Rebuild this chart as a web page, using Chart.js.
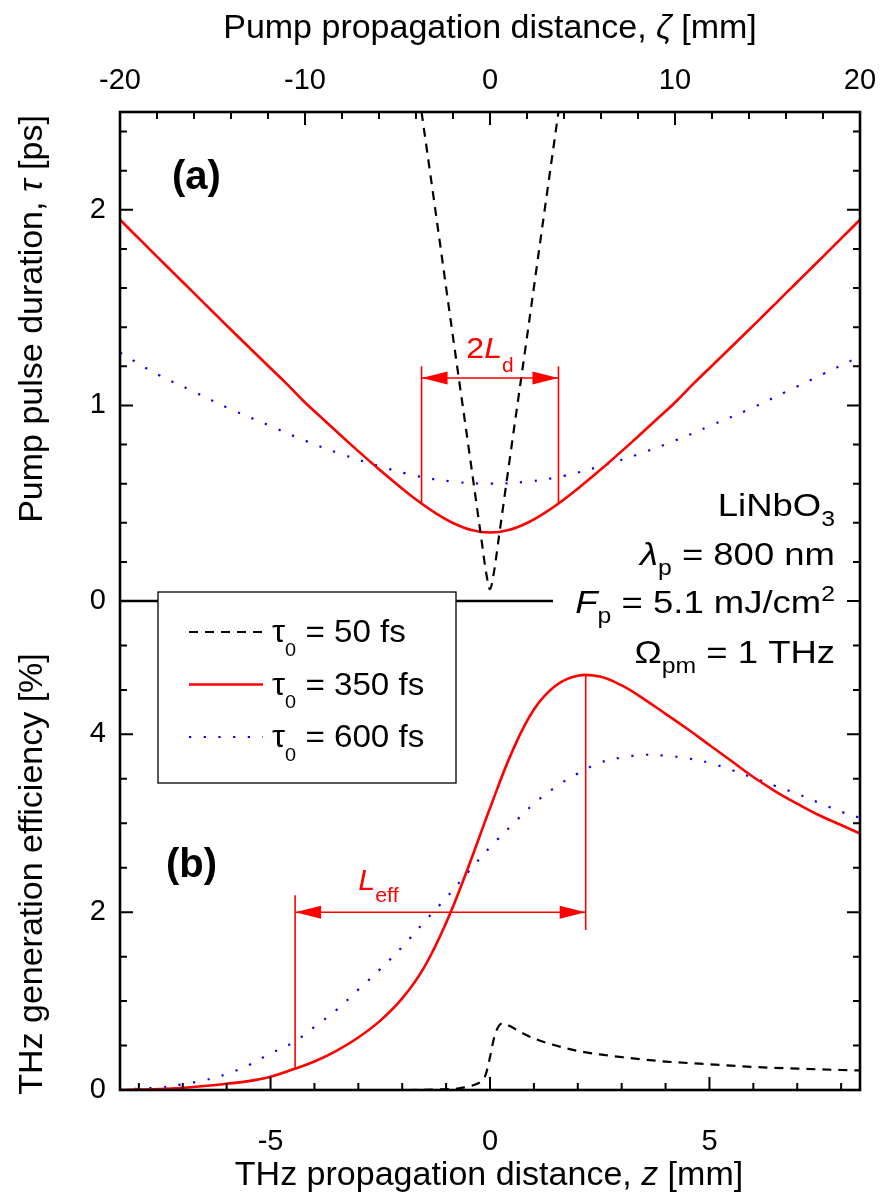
<!DOCTYPE html>
<html>
<head>
<meta charset="utf-8">
<title>Pump pulse duration and THz generation efficiency</title>
<script src="https://cdn.jsdelivr.net/npm/chart.js@4.4.1/dist/chart.umd.min.js"></script>
<style>
  html, body { margin: 0; padding: 0; background: #fff; }
  canvas { display: block; }
</style>
</head>
<body>
<canvas id="myChart" width="884" height="1192"></canvas>
<script>
const FONT = '"Liberation Sans", Arial, Helvetica, sans-serif';

// (a) pump pulse duration tau [ps] vs pump propagation distance zeta [mm]
const zeta50 = [-3.7, -3, -2, -1, -0.5, -0.2, 0, 0.2, 0.5, 1, 2, 3, 3.7];
const tau50 = [2.50, 2.03, 1.35, 0.68, 0.34, 0.14, 0.06, 0.14, 0.34, 0.68, 1.35, 2.03, 2.50];

const zeta350 = [-20, -19, -18, -17, -16, -15, -14, -13, -12, -11, -10, -9, -8, -7, -6, -5, -4, -3, -2, -1, 0,
  1, 2, 3, 4, 5, 6, 7, 8, 9, 10, 11, 12, 13, 14, 15, 16, 17, 18, 19, 20];
const tau350 = [1.949, 1.855, 1.761, 1.667, 1.574, 1.480, 1.387, 1.295, 1.203, 1.111, 1.015, 0.928, 0.841, 0.756, 0.673, 0.594, 0.519, 0.453, 0.399, 0.363, 0.350,
  0.363, 0.399, 0.453, 0.519, 0.594, 0.673, 0.756, 0.841, 0.928, 1.015, 1.111, 1.203, 1.295, 1.387, 1.480, 1.574, 1.667, 1.761, 1.855, 1.949];

const zeta600 = [-20, -18, -16, -14, -12, -10, -8, -6, -4, -2, 0, 2, 4, 6, 8, 10, 12, 14, 16, 18, 20];
const tau600 = [1.27, 1.16, 1.07, 0.98, 0.90, 0.82, 0.75, 0.69, 0.64, 0.61, 0.60, 0.61, 0.64, 0.69, 0.75, 0.82, 0.90, 0.98, 1.07, 1.16, 1.25];

// (b) THz generation efficiency [%] vs THz propagation distance z [mm]
const z50 = [-8.43, -6, -4, -2, -1.2, -0.7, -0.4, -0.2, -0.1, 0, 0.1, 0.2, 0.3, 0.45, 0.7, 1, 1.5, 2, 2.5, 3, 4, 5, 6, 7, 8, 8.43];
const eff50 = [0, 0, 0, 0, 0.005, 0.02, 0.05, 0.10, 0.17, 0.37, 0.60, 0.72, 0.75, 0.72, 0.65, 0.58, 0.50, 0.44, 0.40, 0.37, 0.32, 0.29, 0.26, 0.24, 0.225, 0.22];

const z350 = [-8.5, -8, -7.5, -7, -6.5, -6, -5.5, -5, -4.5, -4, -3.5, -3, -2.5, -2, -1.5, -1, -0.5, 0, 0.5, 1, 1.5, 2, 2.5, 3, 3.5, 4, 4.5, 5, 5.5, 6, 6.5, 7, 7.5, 8, 8.5];
const eff350 = [0, 0.005, 0.012, 0.025, 0.045, 0.07, 0.10, 0.15, 0.23, 0.32, 0.44, 0.59, 0.78, 1.03, 1.38, 1.88, 2.50, 3.17, 3.80, 4.28, 4.55, 4.66, 4.65, 4.55, 4.40, 4.23, 4.06, 3.88, 3.70, 3.52, 3.36, 3.22, 3.09, 2.98, 2.87];

const z600 = [-8.43, -8, -7.5, -7, -6.5, -6, -5.5, -5, -4.5, -4, -3.5, -3, -2.5, -2, -1.5, -1, -0.5, 0, 0.5, 1, 1.5, 2, 2.5, 3, 3.5, 4, 4.5, 5, 5.5, 6, 6.5, 7, 7.5, 8, 8.43];
const eff600 = [0, 0.015, 0.03, 0.065, 0.11, 0.18, 0.28, 0.41, 0.53, 0.71, 0.90, 1.13, 1.36, 1.61, 1.89, 2.16, 2.45, 2.73, 2.98, 3.22, 3.41, 3.56, 3.68, 3.74, 3.77, 3.76, 3.73, 3.68, 3.60, 3.51, 3.42, 3.33, 3.23, 3.13, 3.06];

const legendLabels = ['50 fs', '350 fs', '600 fs'];

// 2L_d markers (panel a) and L_eff markers (panel b)
const ldZeta = [-3.7, 3.7];
const ldSpan = [0.50, 1.20];
const ldArrowAt = 1.14;
const leffZ = [-4.44, 2.18];
const leffFrom = [0.24, 4.67];
const leffTo = [2.19, 1.80];
const leffArrowAt = 2.0;

// axis limits
const zetaRange = [-20, 20];
const zRange = [-8.43, 8.43];
const tauRange = [0, 2.5];
const effRange = [0, 5.5];

const pts = (xs, ys) => xs.map((x, i) => ({x: x, y: ys[i]}));

const dashStyle = {borderColor: '#000', borderWidth: 2.2, borderDash: [9, 7], cubicInterpolationMode: 'monotone'};
const redStyle = {borderColor: '#ff0000', borderWidth: 2.6, borderDash: [], tension: 0.4};
const blueStyle = {borderColor: '#0000ff', borderWidth: 2.2, borderDash: [2.2, 12.5], tension: 0.4};

function line(data, style, xAxis, yAxis) {
  return Object.assign({
    data: data,
    xAxisID: xAxis,
    yAxisID: yAxis,
    showLine: true,
    pointRadius: 0,
    fill: false,
    borderCapStyle: 'butt'
  }, style);
}

// draw a sequence of text runs (italic / subscript / superscript)
function drawRuns(ctx, runs, x, y, o) {
  const size = o.size;
  const sx = o.sx || 1;
  const subScale = o.subScale || 0.68;
  const subOff = (o.subOff || 0.3) * size;
  const fontFor = r => {
    const s = (r.sub || r.sup) ? size * subScale : size;
    return (o.bold ? 'bold ' : '') + (r.it ? 'italic ' : '') + s + 'px ' + FONT;
  };
  let w = 0;
  runs.forEach(r => { ctx.font = fontFor(r); w += ctx.measureText(r.t).width; });
  ctx.save();
  ctx.translate(x, y);
  ctx.scale(sx, 1);
  ctx.fillStyle = o.color || '#000';
  ctx.textAlign = 'left';
  ctx.textBaseline = 'alphabetic';
  let cx = o.align === 'right' ? -w : (o.align === 'center' ? -w / 2 : 0);
  runs.forEach(r => {
    ctx.font = fontFor(r);
    const dy = r.sub ? subOff : (r.sup ? -size * 0.36 : 0);
    ctx.fillText(r.t, cx, dy);
    cx += ctx.measureText(r.t).width;
  });
  ctx.restore();
}

function arrowHead(ctx, x, y, dir) {
  ctx.beginPath();
  ctx.moveTo(x, y);
  ctx.lineTo(x - dir * 26, y - 6.5);
  ctx.lineTo(x - dir * 26, y + 6.5);
  ctx.closePath();
  ctx.fill();
}

const decor = {
  id: 'decor',
  afterDatasetsDraw(chart) {
    const ctx = chart.ctx;
    const a = chart.chartArea;
    const {xTop, xBot, yTop, yBot} = chart.scales;
    const ds = chart.data.datasets;
    ctx.save();

    // zero line of panel (a)
    const y0 = yTop.getPixelForValue(0);
    ctx.strokeStyle = '#000';
    ctx.lineWidth = 2.5;
    ctx.beginPath();
    ctx.moveTo(a.left, y0);
    ctx.lineTo(a.right, y0);
    ctx.stroke();

    // legend box
    const lb = {x: 158, y: 592, w: 298, h: 191};
    ctx.fillStyle = '#fff';
    ctx.fillRect(lb.x, lb.y, lb.w, lb.h);
    ctx.lineWidth = 1.3;
    ctx.strokeStyle = '#000';
    ctx.strokeRect(lb.x, lb.y, lb.w, lb.h);
    legendLabels.forEach((lab, i) => {
      const d = ds[i];
      const yy = lb.y + 40 + i * 52.5;
      ctx.save();
      ctx.strokeStyle = d.borderColor;
      ctx.lineWidth = d.borderWidth;
      ctx.setLineDash(d.borderDash);
      ctx.beginPath();
      ctx.moveTo(lb.x + 31, yy);
      ctx.lineTo(lb.x + 105, yy);
      ctx.stroke();
      ctx.restore();
      drawRuns(ctx, [{t: '\u03c4'}, {t: '0', sub: true}, {t: ' = ' + lab}], lb.x + 114, yy + 10,
        {size: 31, sx: 1.07, subScale: 0.6, subOff: 0.45});
    });

    // material / pump parameters
    const tx = 835;
    const opt = {size: 32, sx: 1.14, align: 'right'};
    drawRuns(ctx, [{t: 'LiNbO'}, {t: '3', sub: true}], tx, 516, opt);
    drawRuns(ctx, [{t: '\u03bb', it: true}, {t: 'p', sub: true}, {t: ' = 800 nm'}], tx, 565, opt);
    ctx.fillStyle = '#fff';
    ctx.fillRect(553, y0 - 4, a.right - 553, 8);
    drawRuns(ctx, [{t: 'F', it: true}, {t: 'p', sub: true}, {t: ' = 5.1 mJ/cm'}, {t: '2', sup: true}], tx, 613, opt);
    drawRuns(ctx, [{t: '\u03a9'}, {t: 'pm', sub: true}, {t: ' = 1 THz'}], tx, 663, opt);

    // 2L_d marker
    ctx.strokeStyle = '#ff0000';
    ctx.fillStyle = '#ff0000';
    ctx.lineWidth = 1.6;
    const ldY = yTop.getPixelForValue(ldArrowAt);
    const ldX = ldZeta.map(v => xTop.getPixelForValue(v));
    ctx.beginPath();
    ldX.forEach(px => {
      ctx.moveTo(px, yTop.getPixelForValue(ldSpan[0]));
      ctx.lineTo(px, yTop.getPixelForValue(ldSpan[1]));
    });
    ctx.moveTo(ldX[0], ldY);
    ctx.lineTo(ldX[1], ldY);
    ctx.stroke();
    arrowHead(ctx, ldX[0], ldY, -1);
    arrowHead(ctx, ldX[1], ldY, 1);
    drawRuns(ctx, [{t: '2'}, {t: 'L', it: true}, {t: 'd', sub: true}], xTop.getPixelForValue(0), ldY - 20,
      {size: 30, sx: 1.07, align: 'center', color: '#ff0000', subScale: 0.65, subOff: 0.45});

    // L_eff marker
    const lfY = yBot.getPixelForValue(leffArrowAt);
    const lfX = leffZ.map(v => xBot.getPixelForValue(v));
    ctx.beginPath();
    lfX.forEach((px, i) => {
      ctx.moveTo(px, yBot.getPixelForValue(leffFrom[i]));
      ctx.lineTo(px, yBot.getPixelForValue(leffTo[i]));
    });
    ctx.moveTo(lfX[0], lfY);
    ctx.lineTo(lfX[1], lfY);
    ctx.stroke();
    arrowHead(ctx, lfX[0], lfY, -1);
    arrowHead(ctx, lfX[1], lfY, 1);
    drawRuns(ctx, [{t: 'L', it: true}, {t: 'eff', sub: true}], xBot.getPixelForValue(-3.0), lfY - 22,
      {size: 29, sx: 1.05, color: '#ff0000', subScale: 0.7, subOff: 0.42});

    // panel labels
    drawRuns(ctx, [{t: '(a)'}], 172, 189, {size: 40, bold: true});
    drawRuns(ctx, [{t: '(b)'}], 166, 877, {size: 40, bold: true});

    // frame and inward ticks
    ctx.strokeStyle = '#000';
    ctx.lineWidth = 2;
    ctx.beginPath();
    for (let v = -8; v <= 8; v++) {
      const px = xBot.getPixelForValue(v);
      ctx.moveTo(px, a.bottom); ctx.lineTo(px, a.bottom - (v % 5 === 0 ? 13 : 7));
    }
    for (let v = -20; v <= 20; v += 2) {
      const px = xTop.getPixelForValue(v);
      ctx.moveTo(px, a.top); ctx.lineTo(px, a.top + (v % 10 === 0 ? 13 : 7));
    }
    const hTick = (py, len) => {
      ctx.moveTo(a.left, py); ctx.lineTo(a.left + len, py);
      ctx.moveTo(a.right, py); ctx.lineTo(a.right - len, py);
    };
    for (let k = 0; k <= 12; k++) {
      hTick(yTop.getPixelForValue(k * 0.2), k % 5 === 0 ? 13 : 7);
    }
    for (let k = 1; k <= 10; k++) {
      hTick(yBot.getPixelForValue(k * 0.5), k % 4 === 0 ? 13 : 7);
    }
    ctx.stroke();
    ctx.lineWidth = 2.6;
    ctx.strokeRect(a.left, a.top, a.right - a.left, a.bottom - a.top);

    // axis titles
    drawRuns(ctx, [{t: 'Pump propagation distance, '}, {t: '\u03b6', it: true}, {t: ' [mm]'}], 490, 38,
      {size: 34, align: 'center'});
    drawRuns(ctx, [{t: 'THz propagation distance, '}, {t: 'z', it: true}, {t: ' [mm]'}], 489, 1185,
      {size: 34, align: 'center'});
    ctx.save();
    ctx.translate(42, 319);
    ctx.rotate(-Math.PI / 2);
    drawRuns(ctx, [{t: 'Pump pulse duration, '}, {t: '\u03c4', it: true}, {t: ' [ps]'}], 0, 0, {size: 34, align: 'center'});
    ctx.restore();
    ctx.save();
    ctx.translate(42, 874);
    ctx.rotate(-Math.PI / 2);
    drawRuns(ctx, [{t: 'THz generation efficiency [%]'}], 0, 0, {size: 34, align: 'center'});
    ctx.restore();

    ctx.restore();
  }
};

const tickFont = {family: FONT, size: 29};
const noGrid = {display: false, drawTicks: false};
const fitX = h => s => { s.height = h; s.paddingLeft = 0; s.paddingRight = 0; };

new Chart(document.getElementById('myChart').getContext('2d'), {
  type: 'scatter',
  data: {
    datasets: [
      line(pts(zeta50, tau50), dashStyle, 'xTop', 'yTop'),
      line(pts(zeta350, tau350), redStyle, 'xTop', 'yTop'),
      line(pts(zeta600, tau600), blueStyle, 'xTop', 'yTop'),
      line(pts(z50, eff50), dashStyle, 'xBot', 'yBot'),
      line(pts(z350, eff350), redStyle, 'xBot', 'yBot'),
      line(pts(z600, eff600), blueStyle, 'xBot', 'yBot')
    ]
  },
  options: {
    responsive: false,
    animation: false,
    devicePixelRatio: 1,
    layout: {padding: {right: 24}},
    plugins: {legend: {display: false}, tooltip: {enabled: false}},
    scales: {
      xBot: {
        type: 'linear', position: 'bottom', min: zRange[0], max: zRange[1],
        grid: noGrid, border: {display: false},
        ticks: {stepSize: 5, includeBounds: false, maxRotation: 0, padding: 35, color: '#000', font: tickFont},
        afterFit: fitX(102)
      },
      xTop: {
        type: 'linear', position: 'top', min: zetaRange[0], max: zetaRange[1],
        grid: noGrid, border: {display: false},
        ticks: {stepSize: 10, includeBounds: false, maxRotation: 0, padding: 14, color: '#000', font: tickFont},
        afterFit: fitX(112)
      },
      yBot: {
        type: 'linear', position: 'left', stack: 'panels', stackWeight: 1,
        min: effRange[0], max: effRange[1],
        grid: noGrid, border: {display: false},
        ticks: {stepSize: 2, includeBounds: false, padding: 14, color: '#000', font: tickFont},
        afterFit: s => { s.width = 120; }
      },
      yTop: {
        type: 'linear', position: 'left', stack: 'panels', stackWeight: 1,
        min: tauRange[0], max: tauRange[1],
        grid: noGrid, border: {display: false},
        ticks: {stepSize: 1, includeBounds: false, padding: 14, color: '#000', font: tickFont},
        afterFit: s => { s.width = 120; }
      }
    }
  },
  plugins: [decor]
});
</script>
</body>
</html>
